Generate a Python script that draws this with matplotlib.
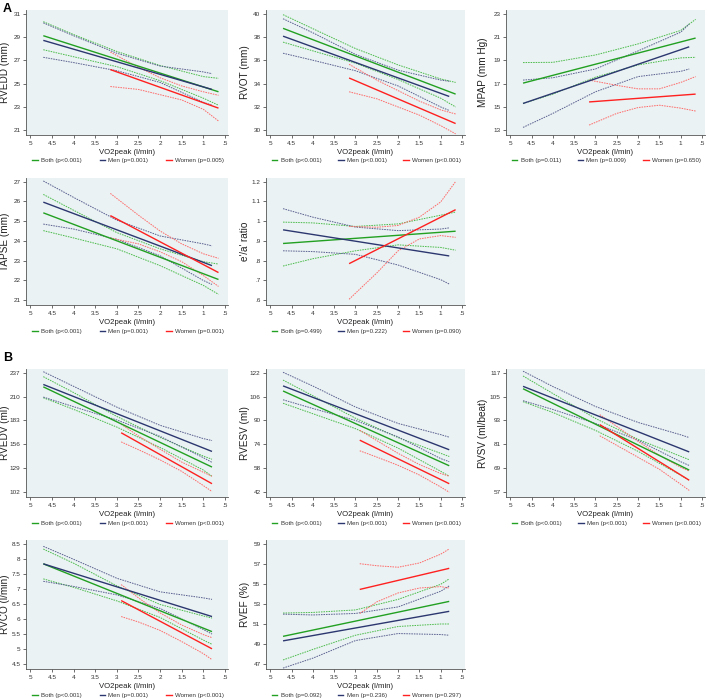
import matplotlib.pyplot as plt
from matplotlib.lines import Line2D

plt.rcParams['font.family'] = ['Liberation Sans', 'DejaVu Sans']

# x grids (VO2peak, l/min) where the curves were read
XA_BOTH = [4.7, 4.0, 3.0, 2.0, 1.0, 0.65]
XA_MEN = [4.7, 4.0, 3.0, 2.0, 1.0, 0.8]
XA_WOMEN = [3.15, 2.5, 2.0, 1.5, 1.0, 0.65]
XB_BOTH = [4.7, 4.0, 3.0, 2.0, 1.0, 0.8]
XB_MEN = [4.7, 4.0, 3.0, 2.0, 1.0, 0.8]
XB_WOMEN = [2.9, 2.5, 2.0, 1.5, 1.0, 0.8]

XTICKS = [5, 4.5, 4, 3.5, 3, 2.5, 2, 1.5, 1, 0.5]
XTICK_LABELS = ['5', '4.5', '4', '3.5', '3', '2.5', '2', '1.5', '1', '.5']

# each group: [fit at both ends], [lower CI], [upper CI]
RVEDD_BOTH = [[29.1, 24.3], [27.9, 27.3, 26.45, 25.25, 23.75, 23.15], [30.3, 29.2, 27.75, 26.55, 25.6, 25.45]]
RVEDD_MEN = [[28.7, 24.5], [27.25, 26.8, 26.1, 25.1, 23.4, 23.15], [30.2, 29.1, 27.6, 26.5, 26.0, 25.85]]
RVEDD_WOMEN = [[26.2, 22.9], [24.75, 24.5, 24.05, 23.6, 22.8, 21.8], [27.7, 26.4, 25.5, 24.8, 24.3, 24.0]]

RVOT_BOTH = [[38.73, 33.1], [37.55, 36.8, 35.75, 34.35, 32.75, 32.0], [39.9, 38.7, 37.0, 35.6, 34.4, 34.1]]
RVOT_MEN = [[38.06, 32.9], [36.6, 36.0, 35.1, 33.8, 32.0, 31.7], [39.55, 38.35, 36.5, 35.15, 34.3, 34.2]]
RVOT_WOMEN = [[34.48, 30.58], [33.3, 32.7, 32.0, 31.3, 30.4, 29.7], [35.65, 34.3, 33.4, 32.5, 31.75, 31.4]]

MPAP_BOTH = [[17.04, 20.9], [15.3, 16.1, 17.55, 18.6, 19.2, 19.25], [18.8, 18.82, 19.45, 20.4, 21.55, 22.5]]
MPAP_MEN = [[15.3, 20.15], [13.25, 14.45, 16.3, 17.6, 18.05, 18.25], [17.3, 17.5, 18.25, 19.8, 21.4, 22.1]]
MPAP_WOMEN = [[15.43, 16.1], [13.45, 14.45, 14.95, 15.15, 14.9, 14.65], [17.3, 16.85, 16.55, 16.55, 17.1, 17.6]]

TAPSE_BOTH = [[25.42, 22.05], [24.52, 24.15, 23.6, 22.75, 21.75, 21.3], [26.35, 25.55, 24.42, 23.6, 22.95, 22.83]]
TAPSE_MEN = [[25.96, 22.75], [24.85, 24.6, 24.08, 23.25, 22.0, 21.8], [27.03, 26.2, 25.05, 24.25, 23.85, 23.75]]
TAPSE_WOMEN = [[25.28, 22.4], [24.15, 23.85, 23.45, 22.95, 22.25, 21.7], [26.4, 25.3, 24.5, 23.85, 23.35, 23.12]]

EA_BOTH = [[0.887, 0.949], [0.773, 0.81, 0.85, 0.88, 0.867, 0.853], [0.995, 0.991, 0.973, 0.986, 1.03, 1.046]]
EA_MEN = [[0.956, 0.824], [0.85, 0.846, 0.832, 0.778, 0.704, 0.682], [1.063, 1.02, 0.97, 0.952, 0.96, 0.966]]
EA_WOMEN = [[0.785, 1.058], [0.605, 0.738, 0.85, 0.91, 0.927, 0.918], [0.973, 0.969, 0.978, 1.02, 1.097, 1.2]]

RVEDV_BOTH = [[220.9, 130.4], [208.6, 195.5, 175.5, 152.5, 127.0, 120.0], [232.4, 214.5, 187.5, 163.8, 142.8, 139.2]]
RVEDV_MEN = [[223.6, 148.0], [209.4, 198.5, 183.5, 165.0, 141.0, 135.7], [238.0, 221.5, 198.0, 177.5, 162.5, 160.3]]
RVEDV_WOMEN = [[169.1, 111.6], [158.8, 150.0, 138.5, 125.5, 109.5, 102.8], [178.7, 165.5, 150.5, 136.0, 124.5, 120.0]]

RVESV_BOTH = [[109.7, 59.7], [101.5, 94.5, 84.5, 71.5, 56.0, 52.7], [117.0, 106.5, 91.5, 78.5, 68.0, 65.9]]
RVESV_MEN = [[113.1, 70.4], [103.8, 98.0, 90.0, 79.0, 64.5, 62.4], [122.2, 113.0, 99.0, 88.0, 80.5, 78.8]]
RVESV_WOMEN = [[76.8, 47.7], [69.7, 65.5, 60.0, 53.5, 45.5, 42.0], [83.4, 76.5, 68.0, 60.5, 54.5, 52.7]]

RVSV_BOTH = [[108.9, 68.1], [102.4, 97.0, 88.0, 77.5, 65.5, 63.0], [115.3, 106.5, 94.0, 83.5, 75.0, 73.3]]
RVSV_MEN = [[110.1, 77.2], [102.9, 98.5, 91.5, 83.0, 72.3, 70.4], [117.7, 110.0, 100.0, 92.0, 85.8, 84.4]]
RVSV_WOMEN = [[90.9, 63.0], [85.3, 80.5, 74.5, 68.5, 61.0, 57.9], [95.9, 90.0, 82.5, 75.5, 69.5, 67.6]]

RVCO_BOTH = [[7.83, 5.58], [7.33, 7.05, 6.6, 6.05, 5.3, 5.16], [8.32, 7.85, 7.1, 6.48, 6.1, 6.03]]
RVCO_MEN = [[7.83, 6.08], [7.25, 7.08, 6.8, 6.35, 5.65, 5.5], [8.41, 7.98, 7.35, 6.9, 6.7, 6.65]]
RVCO_WOMEN = [[6.61, 5.01], [6.08, 5.9, 5.62, 5.25, 4.85, 4.65], [7.14, 6.7, 6.2, 5.8, 5.48, 5.38]]

RVEF_BOTH = [[49.77, 53.25], [47.42, 48.47, 49.88, 50.75, 51.0, 51.0], [52.09, 52.15, 52.4, 53.45, 54.95, 55.49]]
RVEF_MEN = [[49.32, 52.26], [46.61, 47.6, 49.35, 50.05, 49.95, 49.88], [51.98, 51.9, 52.05, 52.7, 54.26, 54.79]]
RVEF_WOMEN = [[54.44, 56.54], [52.05, 53.2, 54.09, 54.58, 54.72, 54.58], [57.0, 56.8, 56.65, 57.07, 57.95, 58.47]]

YLABELS = ['RVEDD (mm)', 'RVOT (mm)', 'MPAP (mm Hg)', 'TAPSE (mm)', "e'/a' ratio",
           'RVEDV (ml)', 'RVESV (ml)', 'RVSV (ml/beat)', 'RVCO (l/min)', 'RVEF (%)']
YTICKS = [[21, 23, 25, 27, 29, 31], [30, 32, 34, 36, 38, 40], [13, 15, 17, 19, 21, 23],
          [21, 22, 23, 24, 25, 26, 27], [0.6, 0.7, 0.8, 0.9, 1.0, 1.1, 1.2],
          [102, 129, 156, 183, 210, 237], [42, 58, 74, 90, 106, 122], [57, 69, 81, 93, 105, 117],
          [4.5, 5, 5.5, 6, 6.5, 7, 7.5, 8, 8.5], [47, 49, 51, 53, 55, 57, 59]]
YTICK_LABELS = [None, None, None, None, ['.6', '.7', '.8', '.9', '1', '1.1', '1.2'],
                None, None, None, ['4.5', '5', '5.5', '6', '6.5', '7', '7.5', '8', '8.5'], None]
P_BOTH = ['p<0.001', 'p<0.001', 'p=0.011', 'p<0.001', 'p=0.499',
          'p<0.001', 'p<0.001', 'p<0.001', 'p<0.001', 'p=0.092']
P_MEN = ['p=0.001', 'p<0.001', 'p=0.009', 'p=0.001', 'p=0.222',
         'p<0.001', 'p<0.001', 'p<0.001', 'p=0.001', 'p=0.236']
P_WOMEN = ['p=0.005', 'p<0.001', 'p=0.650', 'p=0.001', 'p=0.090',
           'p<0.001', 'p<0.001', 'p<0.001', 'p<0.001', 'p=0.297']

GROUPS_DATA = [(RVEDD_BOTH, RVEDD_MEN, RVEDD_WOMEN), (RVOT_BOTH, RVOT_MEN, RVOT_WOMEN),
               (MPAP_BOTH, MPAP_MEN, MPAP_WOMEN), (TAPSE_BOTH, TAPSE_MEN, TAPSE_WOMEN),
               (EA_BOTH, EA_MEN, EA_WOMEN), (RVEDV_BOTH, RVEDV_MEN, RVEDV_WOMEN),
               (RVESV_BOTH, RVESV_MEN, RVESV_WOMEN), (RVSV_BOTH, RVSV_MEN, RVSV_WOMEN),
               (RVCO_BOTH, RVCO_MEN, RVCO_WOMEN), (RVEF_BOTH, RVEF_MEN, RVEF_WOMEN)]

# style
FIT_COLORS = ['#22a022', '#2c3770', '#ff2020']
CI_COLORS = ['#4cbc4c', '#5a6090', '#ff6a6a']
BG = '#eaf2f3'

W, H = 709, 698
COL_X = [(26, 228), (266, 465), (506, 705)]
ROW_Y = [(10, 135), (178, 305), (369, 497), (540, 669)]
SLOTS = [(0, 0), (1, 0), (2, 0), (0, 1), (1, 1), (0, 2), (1, 2), (2, 2), (0, 3), (1, 3)]
# ylabel centre, in pixels left of the axes
YLABEL_OFFSET = [21, 21, 23]

fig = plt.figure(figsize=(W / 100, H / 100), dpi=100)

for i, (col, row) in enumerate(SLOTS):
    x0, x1 = COL_X[col]
    y0, y1 = ROW_Y[row]
    ax = fig.add_axes([x0 / W, 1 - y1 / H, (x1 - x0) / W, (y1 - y0) / H])
    ax.set_facecolor(BG)

    if i < 5:
        grids = (XA_BOTH, XA_MEN, XA_WOMEN)
    else:
        grids = (XB_BOTH, XB_MEN, XB_WOMEN)

    handles = []
    for g, (fit, lo, hi) in enumerate(GROUPS_DATA[i]):
        xs = grids[g]
        ax.plot(xs, lo, color=CI_COLORS[g], lw=0.7, ls=(0, (1.6, 1.0)))
        ax.plot(xs, hi, color=CI_COLORS[g], lw=0.7, ls=(0, (1.6, 1.0)))
    for g, (fit, lo, hi) in enumerate(GROUPS_DATA[i]):
        xs = grids[g]
        ln, = ax.plot([xs[0], xs[-1]], fit, color=FIT_COLORS[g], lw=1.0, solid_capstyle='butt')
        handles.append(ln)

    yt = YTICKS[i]
    span = yt[-1] - yt[0]
    ax.set_ylim(yt[0] - 0.04 * span, yt[-1] + 0.03 * span)
    ax.set_yticks(yt)
    if YTICK_LABELS[i] is not None:
        ax.set_yticklabels(YTICK_LABELS[i])
    ax.set_xlim(5.1, 0.43)
    ax.set_xticks(XTICKS)
    ax.set_xticklabels(XTICK_LABELS)

    for s in ['top', 'right']:
        ax.spines[s].set_visible(False)
    for s in ['left', 'bottom']:
        ax.spines[s].set_color('#555555')
        ax.spines[s].set_linewidth(0.6)
    ax.tick_params(labelsize=4.6, length=2.5, width=0.5, pad=1.5, colors='#333333')

    ax.set_ylabel(YLABELS[i], fontsize=7.2, color='#222222', va='center')
    ax.yaxis.set_label_coords(-YLABEL_OFFSET[col] / (x1 - x0), 0.5)
    ax.set_xlabel('VO2peak (l/min)', fontsize=5.6, labelpad=2.5, color='#222222')

    labels = ['Both (%s)' % P_BOTH[i], 'Men (%s)' % P_MEN[i], 'Women (%s)' % P_WOMEN[i]]
    leg_handles = [Line2D([], [], color=c, lw=1.0) for c in FIT_COLORS]
    ax.legend(leg_handles, labels, loc='center', bbox_to_anchor=(0.03, -0.205, 0.95, 0.0),
              mode='expand', ncol=3, frameon=False, fontsize=4.4, handlelength=0.9,
              handletextpad=0.5, borderaxespad=0, borderpad=0, labelcolor='#333333')

fig.text(3 / W, 1 - 3 / H, 'A', fontsize=9, fontweight='bold', va='top', ha='left')
fig.text(3 / W, 1 - 352 / H, 'B', fontsize=9, fontweight='bold', va='top', ha='left')

fig.savefig('out.png', dpi=100, facecolor='white')
